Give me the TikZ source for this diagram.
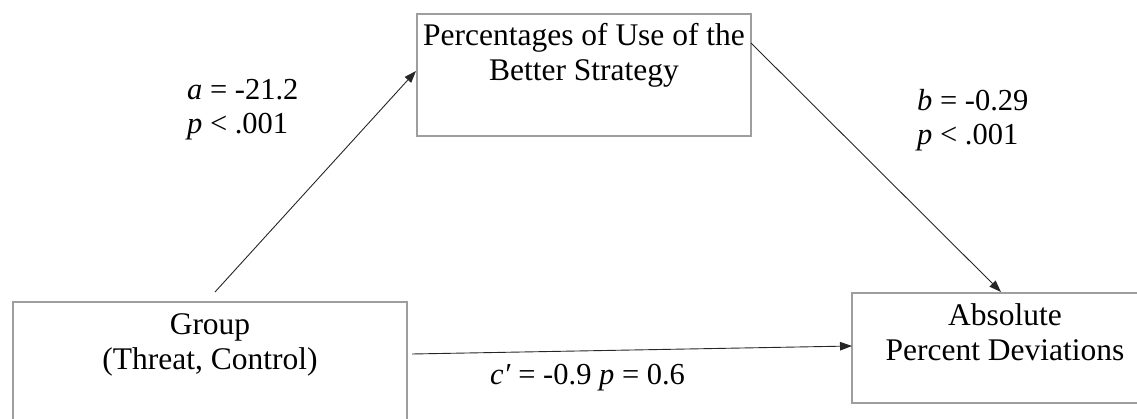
\documentclass[tikz,border=0pt]{standalone}
\usepackage{fontspec}
\setmainfont{Liberation Serif}
\usetikzlibrary{arrows.meta,calc}
\begin{document}
\begin{tikzpicture}[x=1pt,y=1pt,
  varbox/.style={draw=black!38, line width=1.1pt, fill=none, inner sep=0pt},
  boxtext/.style={align=center, inner sep=0pt, font=\fontsize{31.5}{35}\selectfont, anchor=north},
  coef/.style={align=left, inner sep=0pt, font=\fontsize{30.5}{34.5}\selectfont, anchor=base west},
  path/.style={draw=black!85, line width=0.9pt, -{Triangle[length=12pt,width=8.5pt]}}]
\useasboundingbox (0,0) rectangle (1137,418);
% boxes
\draw[varbox] (417,282) rectangle (751,404) node[pos=0.5] (med) {};
\draw[varbox] (13,-10) rectangle (407,116) node[pos=0.5] (grp) {};
\draw[varbox] (852,15) rectangle (1150,125) node[pos=0.5] (out) {};
\coordinate (medN) at (584,404);
\coordinate (grpN) at (210,116);
\coordinate (outN) at (1005,125);
% box texts
\node[boxtext] (medtext) at ($(medN)+(0,-9)$) {Percentages of Use of the\\Better Strategy};
\node[boxtext] (grptext) at ($(grpN)+(0,-11)$) {Group\\(Threat, Control)};
\node[boxtext] (outtext) at ($(outN)+(0,-10)$) {Absolute\\Percent Deviations};
% connector end points
\coordinate (aS) at (215,126);
\coordinate (aE) at (416,347);
\coordinate (bS) at (751,375);
\coordinate (bE) at (1001,126);
\coordinate (cS) at (412,64);
\coordinate (cE) at (852,72);
\draw[path] (aS) -- (aE);
\draw[path] (bS) -- (bE);
\draw[path] (cS) -- (cE);
% coefficients
\node[coef] (alab) at (187,284) {\textit{a} = -21.2\\\textit{p} {<} .001};
\node[coef] (blab) at (917,273) {\textit{b} = -0.29\\\textit{p} {<} .001};
\node[coef] (clab) at (490,34) {\textit{c\char"2032} = -0.9 \textit{p} = 0.6};
\end{tikzpicture}
\end{document}
